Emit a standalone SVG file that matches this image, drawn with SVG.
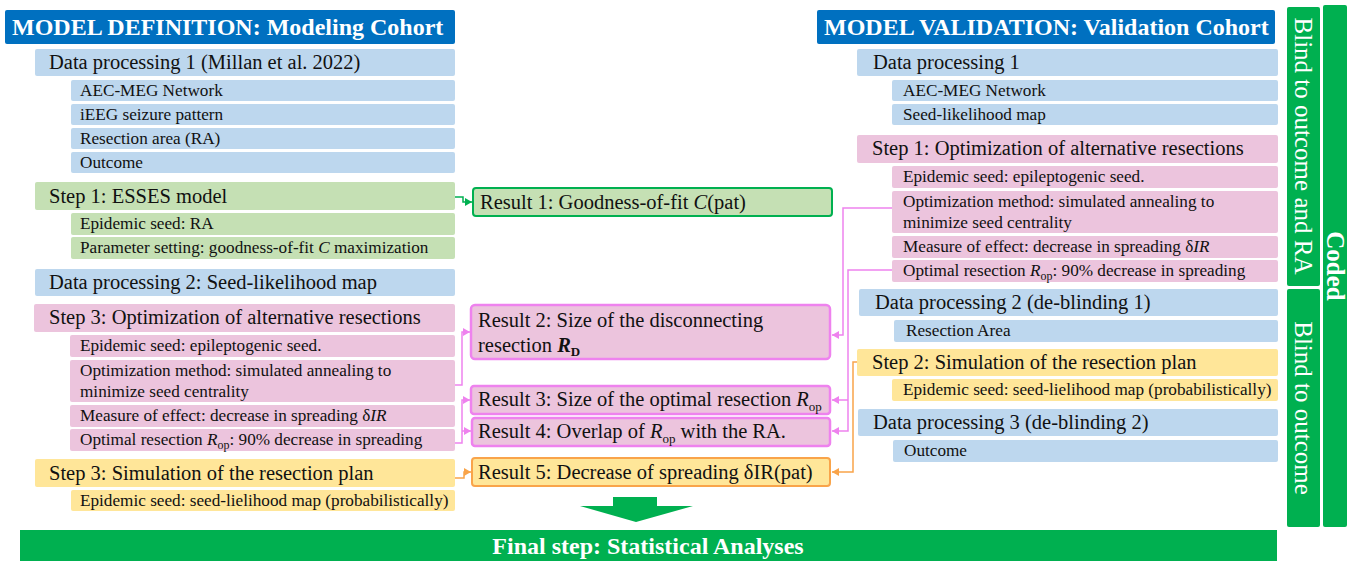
<svg xmlns="http://www.w3.org/2000/svg" width="1347" height="561" viewBox="0 0 1347 561">
<defs>
<style>
text{font-family:"Liberation Serif",serif;fill:#111}
.hdr{fill:#0070C0}
.hdrt{font-size:24px;font-weight:bold;fill:#fff}
.blue{fill:#BDD7EE}
.green{fill:#C5E0B4}
.pink{fill:#ECC4DD}
.yellow{fill:#FFE699}
.big{font-size:20.5px}
.sm{font-size:17.2px}
.it{font-style:italic}
.res{font-size:20.5px}
.rg{fill:#C5E0B4;stroke:#00B050;stroke-width:2}
.rp{fill:#ECC4DD;stroke:#EE82EE;stroke-width:2.5}
.ry{fill:#FFE699;stroke:#F9A44A;stroke-width:2}
.bar{fill:#00B050}
.vt{font-size:25px;fill:#fff}
.cg{fill:none;stroke:#00B050;stroke-width:1.5}
.cp{fill:none;stroke:#EE82EE;stroke-width:1.5}
.co{fill:none;stroke:#F9A44A;stroke-width:1.5}
</style>
<marker id="ag" markerUnits="userSpaceOnUse" markerWidth="8" markerHeight="8" refX="7" refY="4" orient="auto"><path d="M0,0 L7,4 L0,8 z" fill="#00B050"/></marker>
<marker id="ap" markerUnits="userSpaceOnUse" markerWidth="8" markerHeight="8" refX="7" refY="4" orient="auto"><path d="M0,0 L7,4 L0,8 z" fill="#EE82EE"/></marker>
<marker id="ao" markerUnits="userSpaceOnUse" markerWidth="8" markerHeight="8" refX="7" refY="4" orient="auto"><path d="M0,0 L7,4 L0,8 z" fill="#F9A44A"/></marker>
</defs>
<rect width="1347" height="561" fill="#fff"/>

<!-- LEFT COLUMN -->
<g id="hdr-left"><rect class="hdr" x="5" y="10" width="450" height="34" rx="2"/><text class="hdrt" x="12" y="35">MODEL DEFINITION: Modeling Cohort</text></g>
<g id="l-dp1"><rect class="blue" x="35" y="49" width="420" height="27" rx="2"/><text class="big" x="49" y="69">Data processing 1 (Millan et al. 2022)</text></g>
<g id="l-aec"><rect class="blue" x="71" y="80" width="384" height="21" rx="2"/><text class="sm" x="80" y="96">AEC-MEG Network</text></g>
<g id="l-ieeg"><rect class="blue" x="71" y="104" width="384" height="21" rx="2"/><text class="sm" x="80" y="120">iEEG seizure pattern</text></g>
<g id="l-ra"><rect class="blue" x="71" y="128" width="384" height="21" rx="2"/><text class="sm" x="80" y="144">Resection area (RA)</text></g>
<g id="l-out"><rect class="blue" x="71" y="152" width="384" height="21" rx="2"/><text class="sm" x="80" y="168">Outcome</text></g>

<g id="l-step1"><rect class="green" x="35" y="182" width="420" height="28" rx="2"/><text class="big" x="49" y="203">Step 1: ESSES model</text></g>
<g id="l-seedra"><rect class="green" x="71" y="213" width="384" height="22" rx="2"/><text class="sm" x="80" y="229">Epidemic seed: RA</text></g>
<g id="l-param"><rect class="green" x="71" y="237" width="384" height="22" rx="2"/><text class="sm" x="80" y="253">Parameter setting: goodness-of-fit <tspan class="it">C</tspan> maximization</text></g>

<g id="l-dp2"><rect class="blue" x="35" y="269" width="420" height="27" rx="2"/><text class="big" x="49" y="289">Data processing 2: Seed-likelihood map</text></g>

<g id="l-step3"><rect class="pink" x="34" y="304" width="421" height="28" rx="2"/><text class="big" x="49" y="324">Step 3: Optimization of alternative resections</text></g>
<g id="l-seedep"><rect class="pink" x="70" y="335" width="385" height="22" rx="2"/><text class="sm" x="80" y="351">Epidemic seed: epileptogenic seed.</text></g>
<g id="l-optm"><rect class="pink" x="70" y="360" width="385" height="42" rx="2"/><text class="sm" x="80" y="376">Optimization method: simulated annealing to</text><text class="sm" x="80" y="397">minimize seed centrality</text></g>
<g id="l-meas"><rect class="pink" x="70" y="405" width="385" height="22" rx="2"/><text class="sm" x="80" y="421">Measure of effect: decrease in spreading δ<tspan class="it">IR</tspan></text></g>
<g id="l-optr"><rect class="pink" x="70" y="429" width="385" height="22" rx="2"/><text class="sm" x="80" y="445">Optimal resection <tspan class="it">R</tspan><tspan font-size="12" dy="4">op</tspan><tspan dy="-4">: 90% decrease in spreading</tspan></text></g>

<g id="l-sim"><rect class="yellow" x="35" y="459" width="420" height="28" rx="2"/><text class="big" x="49" y="480">Step 3: Simulation of the resection plan</text></g>
<g id="l-seedsl"><rect class="yellow" x="71" y="490" width="384" height="21" rx="2"/><text class="sm" x="80" y="506">Epidemic seed: seed-lielihood map (probabilistically)</text></g>

<!-- RESULTS -->
<g id="res1"><rect class="rg" x="473" y="188" width="359" height="28" rx="3"/><text class="res" x="480" y="209">Result 1: Goodness-of-fit <tspan class="it">C</tspan>(pat)</text></g>
<g id="res2"><rect class="rp" x="471" y="305" width="359" height="54" rx="4"/><text class="res" x="478" y="327">Result 2: Size of the disconnecting</text><text class="res" x="478" y="352">resection <tspan font-style="italic" font-weight="bold">R</tspan><tspan font-weight="bold" font-size="13" dy="4">D</tspan></text></g>
<g id="res3"><rect class="rp" x="471" y="386" width="359" height="28" rx="3"/><text class="res" x="478" y="406">Result 3: Size of the optimal resection <tspan class="it">R</tspan><tspan font-size="13" dy="5">op</tspan></text></g>
<g id="res4"><rect class="rp" x="472" y="418" width="358" height="28" rx="3"/><text class="res" x="478" y="438">Result 4: Overlap of <tspan class="it">R</tspan><tspan font-size="13" dy="5">op</tspan><tspan dy="-5"> with the RA.</tspan></text></g>
<g id="res5"><rect class="ry" x="472" y="458" width="358" height="28" rx="3"/><text class="res" x="478" y="479">Result 5: Decrease of spreading δIR(pat)</text></g>

<!-- RIGHT COLUMN -->
<g id="hdr-right"><rect class="hdr" x="817" y="10" width="458" height="34" rx="2"/><text class="hdrt" x="824" y="35">MODEL VALIDATION: Validation Cohort</text></g>
<g id="r-dp1"><rect class="blue" x="857" y="49" width="421" height="27" rx="2"/><text class="big" x="873" y="69">Data processing 1</text></g>
<g id="r-aec"><rect class="blue" x="892" y="80" width="386" height="21" rx="2"/><text class="sm" x="903" y="96">AEC-MEG Network</text></g>
<g id="r-slm"><rect class="blue" x="892" y="104" width="386" height="21" rx="2"/><text class="sm" x="903" y="120">Seed-likelihood map</text></g>

<g id="r-step1"><rect class="pink" x="857" y="135" width="421" height="28" rx="2"/><text class="big" x="872" y="155">Step 1: Optimization of alternative resections</text></g>
<g id="r-seedep"><rect class="pink" x="892" y="166" width="386" height="22" rx="2"/><text class="sm" x="903" y="182">Epidemic seed: epileptogenic seed.</text></g>
<g id="r-optm"><rect class="pink" x="892" y="191" width="386" height="42" rx="2"/><text class="sm" x="903" y="207">Optimization method: simulated annealing to</text><text class="sm" x="903" y="228">minimize seed centrality</text></g>
<g id="r-meas"><rect class="pink" x="892" y="236" width="386" height="22" rx="2"/><text class="sm" x="903" y="252">Measure of effect: decrease in spreading δ<tspan class="it">IR</tspan></text></g>
<g id="r-optr"><rect class="pink" x="892" y="260" width="386" height="22" rx="2"/><text class="sm" x="903" y="276">Optimal resection <tspan class="it">R</tspan><tspan font-size="12" dy="4">op</tspan><tspan dy="-4">: 90% decrease in spreading</tspan></text></g>

<g id="r-dp2"><rect class="blue" x="859" y="289" width="419" height="27" rx="2"/><text class="big" x="875" y="309">Data processing 2 (de-blinding 1)</text></g>
<g id="r-ra"><rect class="blue" x="894" y="320" width="384" height="22" rx="2"/><text class="sm" x="906" y="336">Resection Area</text></g>
<g id="r-step2"><rect class="yellow" x="857" y="349" width="421" height="27" rx="2"/><text class="big" x="872" y="369">Step 2: Simulation of the resection plan</text></g>
<g id="r-seedsl"><rect class="yellow" x="892" y="379" width="386" height="22" rx="2"/><text class="sm" x="903" y="395">Epidemic seed: seed-lielihood map (probabilistically)</text></g>
<g id="r-dp3"><rect class="blue" x="858" y="409" width="420" height="27" rx="2"/><text class="big" x="873" y="429">Data processing 3 (de-blinding 2)</text></g>
<g id="r-out"><rect class="blue" x="893" y="440" width="385" height="22" rx="2"/><text class="sm" x="904" y="456">Outcome</text></g>

<!-- SIDE BARS -->
<g id="bar-blind-ra"><rect class="bar" x="1287" y="7" width="33" height="279" rx="2"/><text class="vt" text-anchor="middle" transform="translate(1303,146) rotate(90)" dy="8">Blind to outcome and RA</text></g>
<g id="bar-blind-out"><rect class="bar" x="1287" y="289" width="33" height="238" rx="2"/><text class="vt" text-anchor="middle" transform="translate(1303,408) rotate(90)" dy="8">Blind to outcome</text></g>
<g id="bar-coded"><rect class="bar" x="1323" y="5" width="24" height="522" rx="2"/><text class="vt" font-weight="bold" text-anchor="middle" transform="translate(1335,266) rotate(90)" dy="8">Coded</text></g>

<!-- FINAL -->
<g id="arrow-final"><path d="M613,497 H657 V506 H693 L636,522 L580,506 H613 Z" fill="#00B050"/></g>
<g id="final"><rect class="bar" x="20" y="530" width="1257" height="31"/><text x="648" y="554" text-anchor="middle" font-size="24" font-weight="bold" style="fill:#fff">Final step: Statistical Analyses</text></g>

<!-- CONNECTORS -->
<g id="connectors">
<path class="cg" d="M455,197 H463 V202 H472" marker-end="url(#ag)"/>
<path class="cp" d="M455,385 H462 V332 H470" marker-end="url(#ap)"/>
<path class="cp" d="M455,443 H462 V400 H470" marker-end="url(#ap)"/>
<path class="cp" d="M462,431 H471" marker-end="url(#ap)"/>
<path class="co" d="M455,478 H464 V472 H471" marker-end="url(#ao)"/>
<path class="cp" d="M892,208 H843 V335 H832" marker-end="url(#ap)"/>
<path class="cp" d="M892,270 H848 V431 H832" marker-end="url(#ap)"/>
<path class="cp" d="M848,400 H832" marker-end="url(#ap)"/>
<path class="co" d="M857,362 H853 V472 H832" marker-end="url(#ao)"/>
</g>
</svg>
